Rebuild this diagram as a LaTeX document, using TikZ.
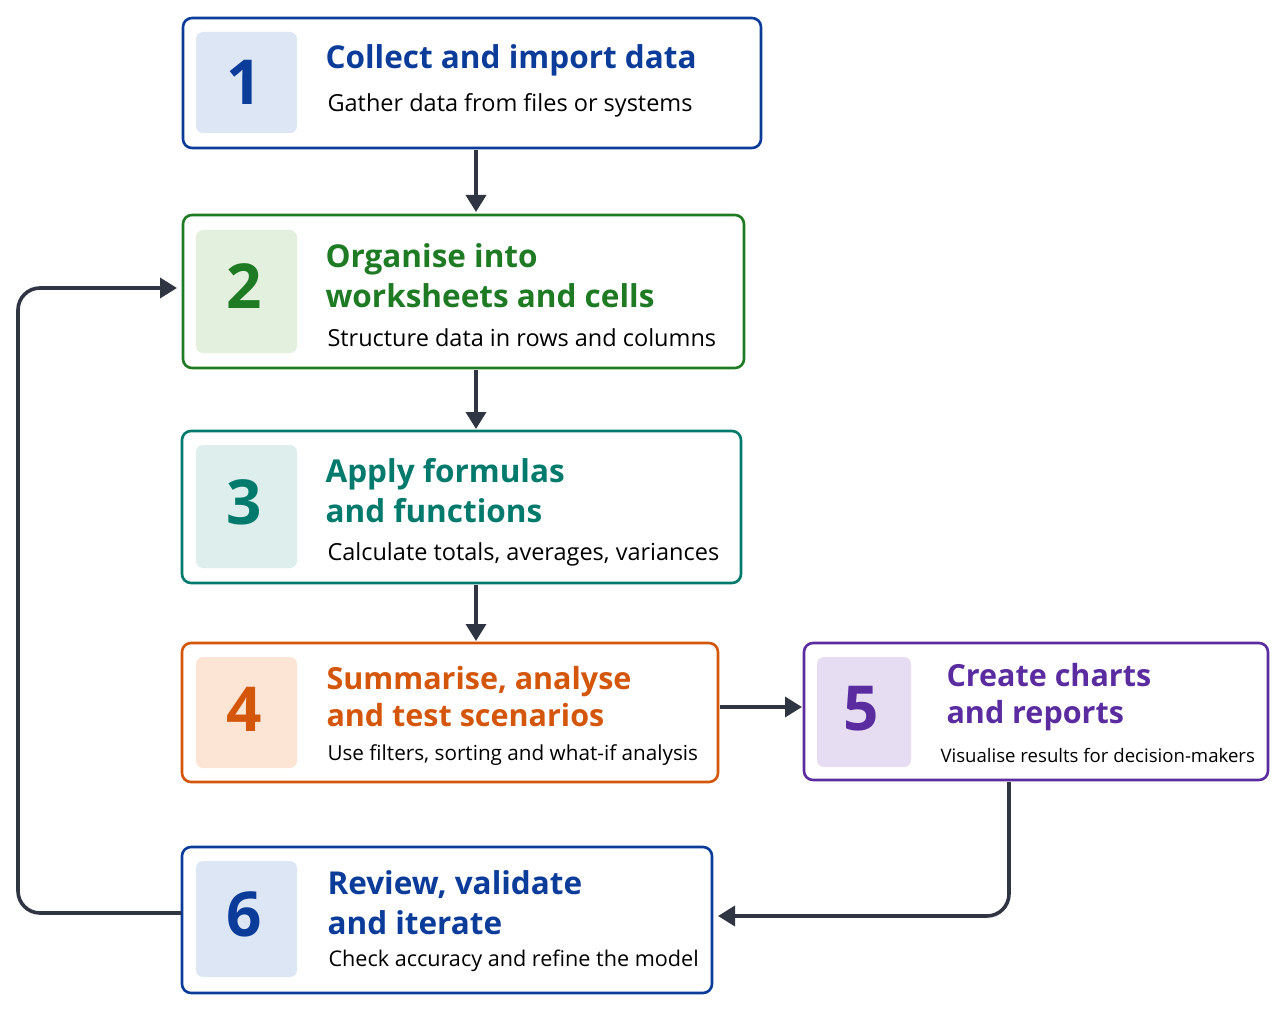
\documentclass[tikz,border=0pt]{standalone}
\usepackage{fontspec}
\setmainfont{Open Sans}
\usetikzlibrary{arrows.meta}
\definecolor{cb}{HTML}{0B3C9A}\definecolor{fb}{HTML}{DCE6F5}
\definecolor{cg}{HTML}{1E7B24}\definecolor{fg}{HTML}{E3F0DE}
\definecolor{ct}{HTML}{007A6C}\definecolor{ft}{HTML}{DDEEEC}
\definecolor{co}{HTML}{D4560A}\definecolor{fo}{HTML}{FCE5D4}
\definecolor{cp}{HTML}{5A2CA0}\definecolor{fp}{HTML}{E6DDF3}
\definecolor{ar}{HTML}{2F3542}
\begin{document}
\begin{tikzpicture}[x=1pt,y=-1pt,
 box/.style={draw=#1,line width=2.6pt,rounded corners=9pt,fill=white},
 sq/.style={fill=#1,rounded corners=7pt},
 num/.style={text=#1,font=\fontsize{62}{62}\selectfont\bfseries},
 ttl/.style={text=#1,anchor=west,font=\fontsize{31.5}{40}\selectfont\bfseries,align=left},
 sub/.style={anchor=west,text=black,font=\fontsize{23.5}{28}\selectfont},
 con/.style={draw=ar,line width=3.6pt,-{Triangle[length=17pt,width=20pt]},rounded corners=22pt}]
\useasboundingbox (0,0) rectangle (1286,1011);
% box 1
\draw[box=cb] (183,18) rectangle (761,148);
\fill[sq=fb] (196,32) rectangle (297,133); \node[num=cb] (n1) at (244,82) {1};
\node[ttl=cb] (t1) at (322,60) {Collect and import data};
\node[sub] (s1) at (324,105) {Gather data from files or systems};
% box 2
\draw[box=cg] (183,215) rectangle (744,368);
\fill[sq=fg] (196,230) rectangle (297,353); \node[num=cg] (n2) at (244,286) {2};
\node[ttl=cg] (t2) at (322,276) {Organise into\\worksheets and cells};
\node[sub] (s2) at (324,338) {Structure data in rows and columns};
% box 3
\draw[box=ct] (182,431) rectangle (741,583);
\fill[sq=ft] (196,445) rectangle (297,568); \node[num=ct] (n3) at (244,502) {3};
\node[ttl=ct] (t3) at (322,491) {Apply formulas\\and functions};
\node[sub] (s3) at (324,554) {Calculate totals, averages, variances};
% box 4
\draw[box=co] (182,643) rectangle (718,782);
\fill[sq=fo] (196,657) rectangle (297,768); \node[num=co] (n4) at (244,709) {4};
\node[ttl=co,font=\fontsize{30.5}{37}\selectfont\bfseries] (t4) at (323,697) {Summarise, analyse\\and test scenarios};
\node[sub,font=\fontsize{20.7}{26}\selectfont] (s4) at (324,755) {Use filters, sorting and what-if analysis};
% box 5
\draw[box=cp] (804,643) rectangle (1268,780);
\fill[sq=fp] (817,657) rectangle (911,767); \node[num=cp] (n5) at (861,709) {5};
\node[ttl=cp,font=\fontsize{30.5}{37}\selectfont\bfseries] (t5) at (943,697) {Create charts\\and reports};
\node[sub,font=\fontsize{18.6}{24}\selectfont] (s5) at (937,755) {Visualise results for decision-makers};
% box 6
\draw[box=cb] (182,847) rectangle (712,993);
\fill[sq=fb] (196,861) rectangle (297,977); \node[num=cb] (n6) at (244,914) {6};
\node[ttl=cb] (t6) at (324,903) {Review, validate\\and iterate};
\node[sub,font=\fontsize{21.6}{27}\selectfont] (s6) at (325,961) {Check accuracy and refine the model};
% connectors
\coordinate (a1) at (476,150); \coordinate (a2) at (476,212);
\coordinate (a3) at (476,370); \coordinate (a4) at (476,429);
\coordinate (a5) at (476,585); \coordinate (a6) at (476,641);
\coordinate (a7) at (720,707); \coordinate (a8) at (802,707);
\coordinate (a9) at (1009,782); \coordinate (a10) at (718,916);
\coordinate (a11) at (181,913); \coordinate (a12) at (177,288);
\draw[con] (a1) -- (a2);
\draw[con] (a3) -- (a4);
\draw[con] (a5) -- (a6);
\draw[con] (a7) -- (a8);
\draw[con] (a9) |- (a10);
\draw[con] (a11) -- (18,913) -- (18,288) -- (a12);
\end{tikzpicture}
\end{document}
